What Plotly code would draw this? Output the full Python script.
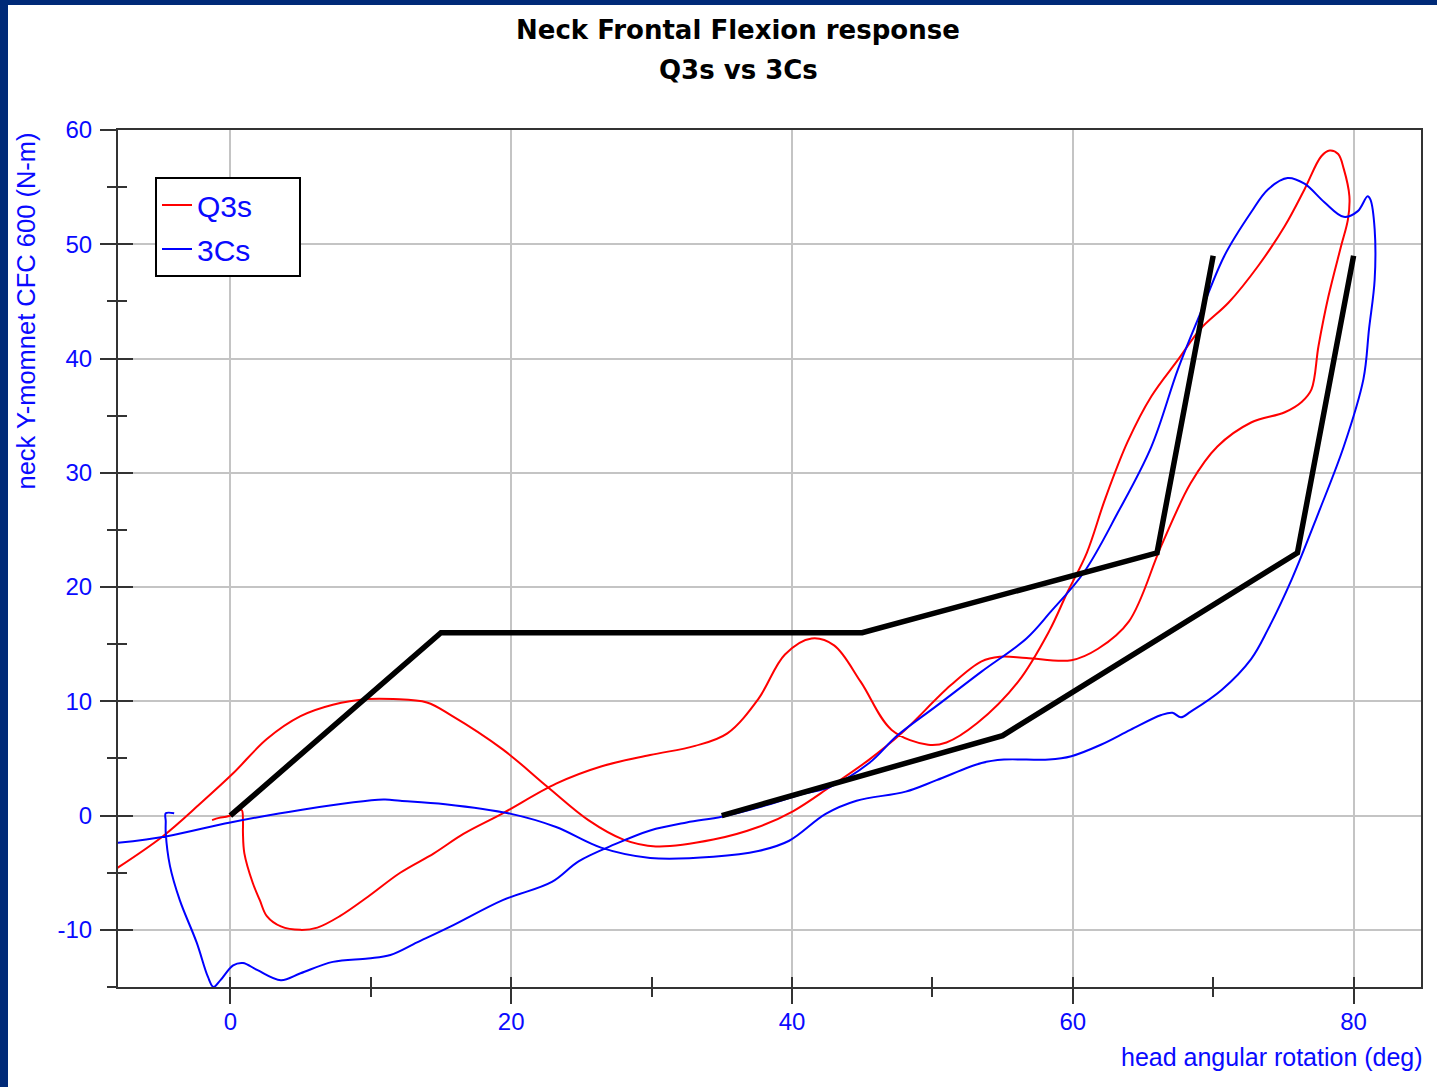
import plotly.graph_objects as go

# ---------------- data ----------------
q3s_x = [-1.3, -0.8, -0.3, 0.2, 0.8, 0.9, 0.9, 1.0, 1.6, 2.1, 2.6, 3.6, 5.0, 6.2, 7.8, 9.8, 12.1, 14.5,
         16.6, 19.4, 23.2, 26.4, 29.9, 33.1, 35.4, 37.6, 39.5, 41.4, 43.0, 44.9, 47.1, 49.7, 51.0, 53.2,
         56.1, 58.3, 59.6, 61.0, 62.3, 63.9, 65.6, 67.5, 69.1, 71.1, 73.2, 75.1, 76.5, 77.7, 78.3, 78.9,
         79.3, 79.7, 79.6, 79.1, 78.2, 77.5, 77.0, 76.3, 75.1, 72.7, 70.3, 68.4, 66.3, 64.0, 61.8, 59.9,
         56.7, 54.8, 53.5, 51.3, 47.8, 45.5, 42.7, 40.1, 37.6, 34.4, 30.3, 28.0, 25.5, 22.6, 19.4, 15.7,
         14.0, 11.6, 9.8, 7.3, 5.0, 2.6, 0.2, -2.1, -4.8, -8.2]
q3s_y = [-0.4, -0.2, -0.1, 0.1, 0.5, -0.5, -1.5, -3.3, -5.9, -7.4, -8.8, -9.7, -10.0, -9.8, -8.8, -7.1, -5.0, -3.3,
         -1.6, 0.2, 2.8, 4.3, 5.3, 6.1, 7.2, 10.2, 14.1, 15.5, 14.9, 11.7, 7.5, 6.2, 6.4, 8.1,
         11.7, 16.1, 19.5, 23.0, 27.7, 32.7, 36.7, 39.9, 42.6, 44.9, 48.1, 51.6, 54.8, 57.7, 58.2, 57.9,
         56.6, 54.2, 52.2, 49.8, 45.4, 41.1, 37.3, 36.2, 35.3, 34.4, 32.3, 29.1, 23.6, 17.0, 14.6, 13.6,
         13.8, 13.9, 13.5, 11.4, 7.2, 4.9, 2.5, 0.4, -1.0, -2.1, -2.7, -2.1, -0.4, 2.5, 5.8, 8.8,
         9.9, 10.2, 10.2, 9.7, 8.7, 6.7, 3.7, 1.1, -1.8, -4.7]

c3s_x = [-4.0, -4.6, -4.6, -4.6, -4.3, -3.6, -2.4, -1.6, -1.2, -0.7, 0.2, 0.9, 1.9, 3.6, 5.0, 7.3, 9.8, 11.4,
         13.3, 15.7, 19.4, 22.9, 24.8, 27.4, 29.9, 32.5, 35.0, 37.6, 40.8, 42.7, 45.5, 47.5, 50.3, 53.5,
         56.7, 58.4, 60.8, 63.2, 65.6, 67.5, 69.1, 70.8, 72.7, 73.9, 75.3, 76.5, 77.9, 79.3, 80.3, 81.0,
         81.2, 81.5, 81.5, 81.1, 80.7, 79.3, 77.5, 75.6, 73.9, 72.7, 70.6, 68.4, 67.7, 67.1, 66.3, 64.1,
         62.0, 59.9, 58.3, 55.1, 53.5, 50.3, 48.1, 44.6, 42.4, 39.8, 37.6, 34.4, 29.9, 26.4, 23.2, 20.0,
         15.3, 12.1, 10.9, 5.0, 0.0, -4.5, -8.1]
c3s_y = [0.2, 0.2, -0.5, -1.5, -4.4, -7.4, -11.1, -14.1, -15.0, -14.4, -13.1, -12.9, -13.5, -14.4, -13.8, -12.8, -12.5, -12.2,
         -11.1, -9.7, -7.4, -5.8, -4.0, -2.5, -1.3, -0.6, -0.1, 0.7, 1.9, 2.5, 4.6, 7.0, 9.6, 12.6,
         15.5, 17.8, 21.3, 26.5, 32.3, 39.1, 44.0, 49.0, 52.8, 54.8, 55.8, 55.3, 53.7, 52.4, 52.9, 54.2,
         53.9, 51.3, 46.9, 42.6, 38.2, 32.3, 26.5, 20.7, 16.3, 13.7, 11.0, 9.1, 8.6, 9.0, 8.8, 7.5,
         6.2, 5.2, 4.9, 4.9, 4.6, 3.1, 2.1, 1.3, 0.15, -2.2, -3.1, -3.6, -3.7, -2.8, -1.0, 0.15,
         1.0, 1.3, 1.4, 0.5, -0.6, -1.8, -2.4]

corridor_upper_x = [0, 15, 45, 66, 70]
corridor_upper_y = [0, 16, 16, 23, 49]
corridor_lower_x = [35, 55, 76, 80]
corridor_lower_y = [0, 7, 23, 49]

x_tickvals = [0, 20, 40, 60, 80]
x_ticktext = ["0", "20", "40", "60", "80"]
x_minorvals = [10, 30, 50, 70]
y_tickvals = [-10, 0, 10, 20, 30, 40, 50, 60]
y_ticktext = ["-10", "0", "10", "20", "30", "40", "50", "60"]
y_minorvals = [-15, -5, 5, 15, 25, 35, 45, 55]

series_names = ["Q3s", "3Cs"]
title_line1 = "Neck Frontal Flexion response"
title_line2 = "Q3s vs 3Cs"
x_title = "head angular rotation (deg)"
y_title = "neck Y-momnet CFC 600 (N-m)"

# ---------------- layout geometry ----------------
W, H = 1437, 1087
L, R, T, B = 118, 16, 130, 100
PW, PH = W - L - R, H - T - B


def px_x(px):
    return (px - L) / PW


def px_y(py):
    return (H - B - py) / PH


BLUE_TXT = "#0a0aff"
NAVY = "#002a78"
AX = "#333333"
GRID = "#c4c4c4"
FONT = "Liberation Sans, Arial, sans-serif"
PAD = "\u00a0" * 5

fig = go.Figure()

fig.add_trace(go.Scatter(x=q3s_x, y=q3s_y, mode="lines", name=series_names[0] + PAD, legendgroup="a",
                         line=dict(color="#ff0000", width=2, shape="spline", smoothing=1.0)))
fig.add_trace(go.Scatter(x=c3s_x, y=c3s_y, mode="lines", name=series_names[1] + PAD, legendgroup="b",
                         line=dict(color="#0000ff", width=2, shape="spline", smoothing=1.0)))
fig.add_trace(go.Scatter(x=corridor_upper_x, y=corridor_upper_y, mode="lines", showlegend=False,
                         line=dict(color="#000000", width=5.5)))
fig.add_trace(go.Scatter(x=corridor_lower_x, y=corridor_lower_y, mode="lines", showlegend=False,
                         line=dict(color="#000000", width=5.5)))
# helper trace for the overlay axes (inside tick halves)
fig.add_trace(go.Scatter(x=[None], y=[None], xaxis="x2", yaxis="y2", showlegend=False,
                         hoverinfo="skip", mode="lines"))

xr = [-8, 84.8]
yr = [-15, 60]

fig.update_layout(
    width=W, height=H,
    margin=dict(l=L, r=R, t=T, b=B, pad=0),
    paper_bgcolor="white", plot_bgcolor="white",
    font=dict(family=FONT, color=BLUE_TXT, size=25),
    showlegend=True,
    legend=dict(x=px_x(155), y=px_y(177), xanchor="left", yanchor="top",
                bgcolor="white", bordercolor="#000000", borderwidth=2,
                font=dict(size=30, color=BLUE_TXT, family=FONT),
                tracegroupgap=2, itemwidth=30),
    xaxis=dict(range=xr, showgrid=True, gridcolor=GRID, gridwidth=1.5, zeroline=False,
               showline=True, linecolor=AX, linewidth=2, mirror=True,
               tickmode="array", tickvals=x_tickvals, ticktext=x_ticktext,
               ticks="outside", ticklen=15, tickwidth=2, tickcolor=AX,
               ticklabelstandoff=-3,
               tickfont=dict(size=24, color=BLUE_TXT, family=FONT),
               minor=dict(tickmode="array", tickvals=x_minorvals, ticks="outside",
                          ticklen=8, tickwidth=2, tickcolor=AX, showgrid=False)),
    yaxis=dict(range=yr, showgrid=True, gridcolor=GRID, gridwidth=1.5, zeroline=False,
               showline=True, linecolor=AX, linewidth=2, mirror=True,
               tickmode="array", tickvals=y_tickvals, ticktext=y_ticktext,
               ticks="outside", ticklen=16, tickwidth=2, tickcolor=AX,
               ticklabelstandoff=3,
               tickfont=dict(size=24, color=BLUE_TXT, family=FONT),
               minor=dict(tickmode="array", tickvals=y_minorvals, ticks="outside",
                          ticklen=9, tickwidth=2, tickcolor=AX, showgrid=False)),
    xaxis2=dict(range=xr, overlaying="x", anchor="y", side="bottom", showgrid=False, zeroline=False,
                showline=False, showticklabels=False,
                tickmode="array", tickvals=x_tickvals,
                ticks="inside", ticklen=10, tickwidth=2, tickcolor=AX,
                minor=dict(tickmode="array", tickvals=x_minorvals, ticks="inside",
                           ticklen=10, tickwidth=2, tickcolor=AX, showgrid=False)),
    yaxis2=dict(range=yr, overlaying="y", anchor="x", side="left", showgrid=False, zeroline=False,
                showline=False, showticklabels=False,
                tickmode="array", tickvals=y_tickvals,
                ticks="inside", ticklen=15, tickwidth=2, tickcolor=AX,
                minor=dict(tickmode="array", tickvals=y_minorvals, ticks="inside",
                           ticklen=9, tickwidth=2, tickcolor=AX, showgrid=False)),
    shapes=[
        dict(type="rect", xref="paper", yref="paper", layer="above",
             x0=px_x(0), x1=px_x(8), y0=px_y(H), y1=px_y(0),
             fillcolor=NAVY, line=dict(width=0)),
        dict(type="rect", xref="paper", yref="paper", layer="above",
             x0=px_x(0), x1=px_x(W), y0=px_y(5), y1=px_y(0),
             fillcolor=NAVY, line=dict(width=0)),
    ],
    annotations=[
        dict(text="<b>" + title_line1 + "</b>", xref="paper", yref="paper",
             x=px_x(738), y=px_y(30), xanchor="center", yanchor="middle", showarrow=False,
             font=dict(family="DejaVu Sans", size=26, color="#000000")),
        dict(text="<b>" + title_line2 + "</b>", xref="paper", yref="paper",
             x=px_x(738), y=px_y(70), xanchor="center", yanchor="middle", showarrow=False,
             font=dict(family="DejaVu Sans", size=26, color="#000000")),
        dict(text=x_title, xref="paper", yref="paper",
             x=px_x(1425), y=px_y(1057), xanchor="right", yanchor="middle", showarrow=False,
             font=dict(family=FONT, size=25, color=BLUE_TXT)),
        dict(text=y_title, xref="paper", yref="paper", textangle=-90,
             x=px_x(25), y=px_y(131), xanchor="center", yanchor="top", showarrow=False,
             font=dict(family=FONT, size=25.5, color=BLUE_TXT)),
    ],
)

fig.write_html("out.html", config={"displayModeBar": False},
               post_script="document.body.style.margin='0';document.body.style.overflow='hidden';")
